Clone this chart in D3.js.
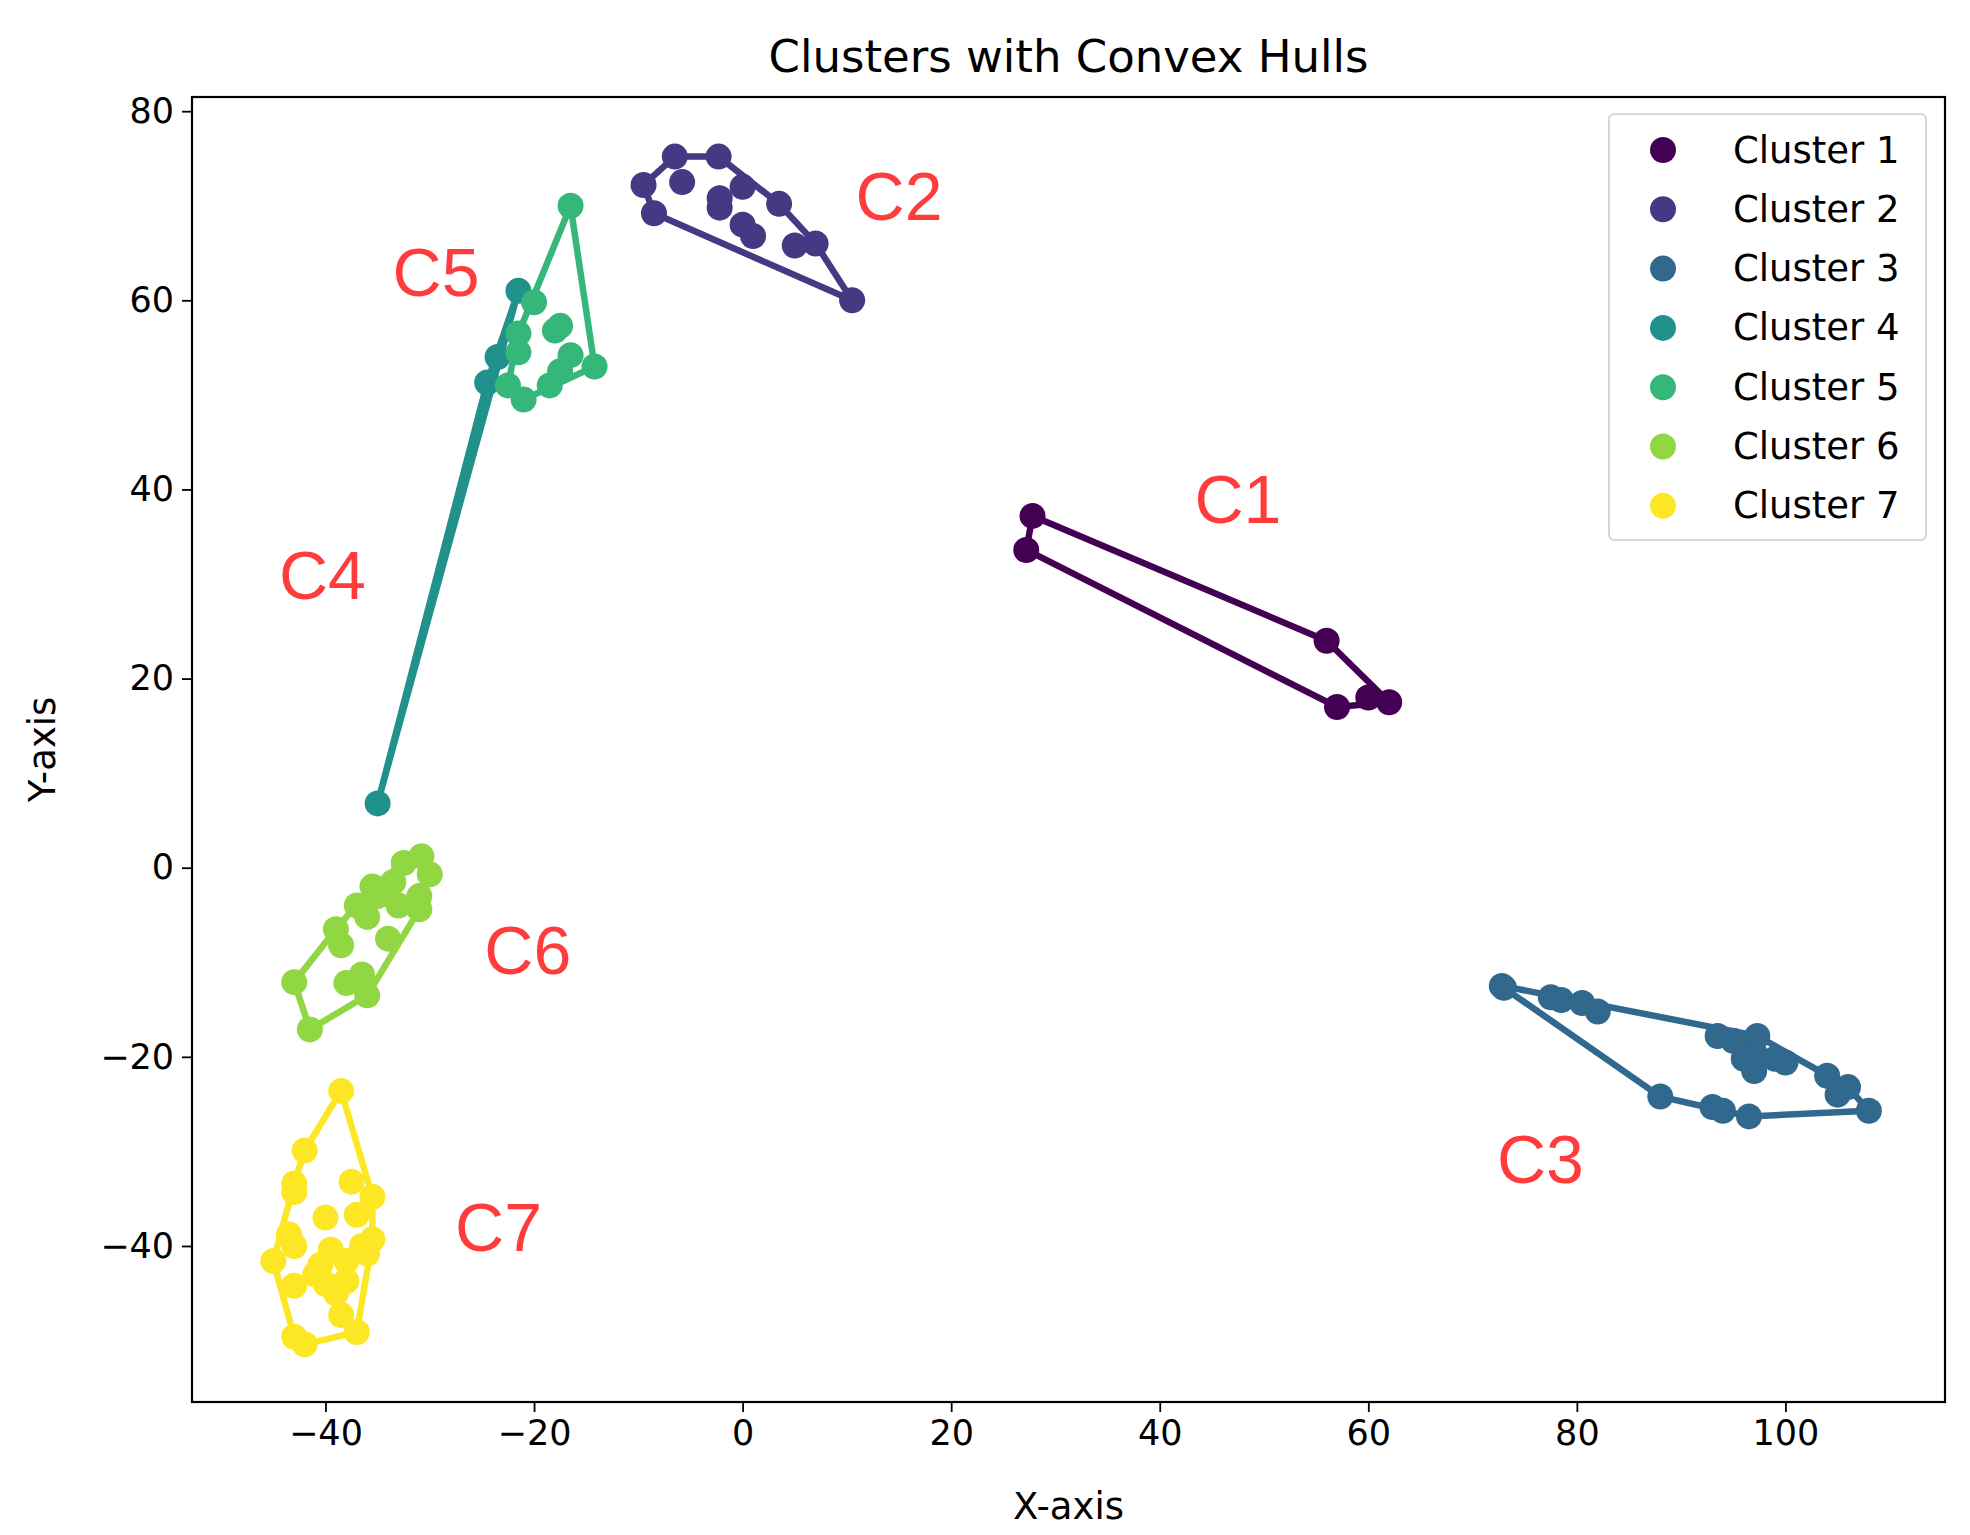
<!DOCTYPE html>
<html><head><meta charset="utf-8">
<script src="https://cdn.jsdelivr.net/npm/d3@7"></script>
<style>body{margin:0;background:#fff}svg{font-family:"DejaVu Sans",sans-serif}</style>
</head><body><svg id="c" width="1970" height="1535"></svg>
<script>
const clusterNames=["Cluster 1","Cluster 2","Cluster 3","Cluster 4","Cluster 5","Cluster 6","Cluster 7"];
const clusterColors=["#440154","#443983","#31688e","#21918c","#35b779","#90d743","#fde725"];
const c1=[[27.8,37.2],[27.2,33.6],[56,24],[57,17],[60,18],[62,17.5]];
const c2=[[-9.5,72.2],[-6.5,75.2],[-2.3,75.2],[-5.8,72.5],[-8.5,69.2],[-2.2,70.8],[-2.2,69.8],[0,72],[0,68],[1,66.8],[3.5,70.2],[5,65.8],[7,66],[10.5,60]];
const c3=[[72.8,-12.5],[73,-12.7],[77.5,-13.7],[78.5,-14],[80.5,-14.3],[82,-15.2],[88,-24.2],[93,-25.3],[94,-25.7],[96.5,-26.3],[93.5,-17.8],[95,-18.3],[96,-20.2],[97,-19.5],[97.3,-17.8],[97,-21.5],[99,-20.2],[100,-20.6],[104,-22],[105,-24],[106,-23.2],[108,-25.7]];
const c4=[[-35,6.8],[-24.5,51.3],[-23.5,54],[-21.5,61]];
const c5=[[-16.5,70],[-20,59.8],[-21.5,56.5],[-21.5,54.5],[-18,56.8],[-17.5,57.3],[-22.5,51],[-21,49.5],[-18.5,51],[-17.5,52.5],[-16.5,54.2],[-14.2,53]];
const c6=[[-43,-12.1],[-41.5,-17.1],[-36,-13.5],[-36.5,-11.3],[-38,-12.2],[-39,-6.5],[-38.5,-8.2],[-34,-7.5],[-36,-5.2],[-35,-3],[-34,-2.5],[-33,-4],[-31,-3],[-32.5,0.5],[-30.8,1.2],[-30,-0.7],[-31,-4.4],[-33.5,-1.5],[-37,-4],[-35.5,-2]];
const c7=[[-38.5,-23.6],[-42,-29.9],[-43,-33.4],[-43,-34.3],[-37.5,-33.2],[-35.5,-34.8],[-40,-37],[-37,-36.7],[-43.5,-38.8],[-43,-40],[-45,-41.6],[-39.5,-40.4],[-38,-41.6],[-36.5,-40],[-35.5,-39.3],[-36,-40.8],[-43,-44.2],[-41,-43],[-40,-44],[-38,-43.7],[-38.5,-47.3],[-37,-49.1],[-43,-49.6],[-42,-50.4],[-40.5,-42],[-39,-45]];
const clusters=[c1,c2,c3,c4,c5,c6,c7];
const labelTexts=["C1","C2","C3","C4","C5","C6","C7"];
const labelPos=[[47.5,39],[15,71],[76.5,-30.8],[-40.3,31],[-29.4,63],[-20.6,-8.7],[-23.4,-38]];
const xTicks=[-40,-20,0,20,40,60,80,100];
const yTicks=[-40,-20,0,20,40,60,80];

const svg=d3.select("#c");
const L=192,R=1945,T=97,B=1402;
const x=d3.scaleLinear().domain([-52.8,115.3]).range([L,R]);
const y=d3.scaleLinear().domain([-56.5,81.5]).range([B,T]);

const gx=svg.append("g").attr("transform",`translate(0,${B})`).call(d3.axisBottom(x).tickValues(xTicks).tickSize(10).tickPadding(8).tickFormat(d=>d<0?"\u2212"+(-d):d));
const gy=svg.append("g").attr("transform",`translate(${L},0)`).call(d3.axisLeft(y).tickValues(yTicks).tickSize(10).tickPadding(8).tickFormat(d=>d<0?"\u2212"+(-d):d));
[gx,gy].forEach(g=>{g.select(".domain").remove();g.selectAll("line").attr("stroke","#000").attr("stroke-width",1.8);g.selectAll("text").attr("font-size",35).attr("fill","#000").attr("font-family","DejaVu Sans");});

const plot=svg.append("g");
clusters.forEach((pts,i)=>{
  const hull=d3.polygonHull(pts.map(p=>[x(p[0]),y(p[1])]));
  plot.append("path").attr("d","M"+hull.join("L")+"Z").attr("fill","none").attr("stroke",clusterColors[i]).attr("stroke-width",6.5).attr("stroke-linejoin","round");
  plot.selectAll(null).data(pts).join("circle").attr("cx",d=>x(d[0])).attr("cy",d=>y(d[1])).attr("r",13).attr("fill",clusterColors[i]);
});
labelTexts.forEach((t,i)=>{
  svg.append("text").attr("x",x(labelPos[i][0])).attr("y",y(labelPos[i][1])).attr("text-anchor","middle").attr("dominant-baseline","central")
    .attr("font-family","Liberation Sans, Arial").attr("font-size",68).attr("fill","#ff3b3b").text(t);
});
svg.append("rect").attr("x",L).attr("y",T).attr("width",R-L).attr("height",B-T).attr("fill","none").attr("stroke","#000").attr("stroke-width",2.2);

const lg=svg.append("g");
lg.append("rect").attr("x",1609).attr("y",114).attr("width",317).attr("height",426).attr("rx",5).attr("fill","#fff").attr("fill-opacity",0.8).attr("stroke","#ccc").attr("stroke-width",1.6);
clusterNames.forEach((n,i)=>{
  const yy=150+i*59.3;
  lg.append("circle").attr("cx",1663).attr("cy",yy).attr("r",13).attr("fill",clusterColors[i]);
  lg.append("text").attr("x",1733).attr("y",yy).attr("dominant-baseline","central").attr("font-size",37).attr("fill","#000").text(n);
});
svg.append("text").attr("x",(L+R)/2).attr("y",56).attr("text-anchor","middle").attr("dominant-baseline","central").attr("font-size",45).text("Clusters with Convex Hulls");
svg.append("text").attr("x",(L+R)/2).attr("y",1506).attr("text-anchor","middle").attr("dominant-baseline","central").attr("font-size",37).text("X-axis");
svg.append("text").attr("transform",`translate(42,${(T+B)/2}) rotate(-90)`).attr("text-anchor","middle").attr("dominant-baseline","central").attr("font-size",37).text("Y-axis");
</script></body></html>
